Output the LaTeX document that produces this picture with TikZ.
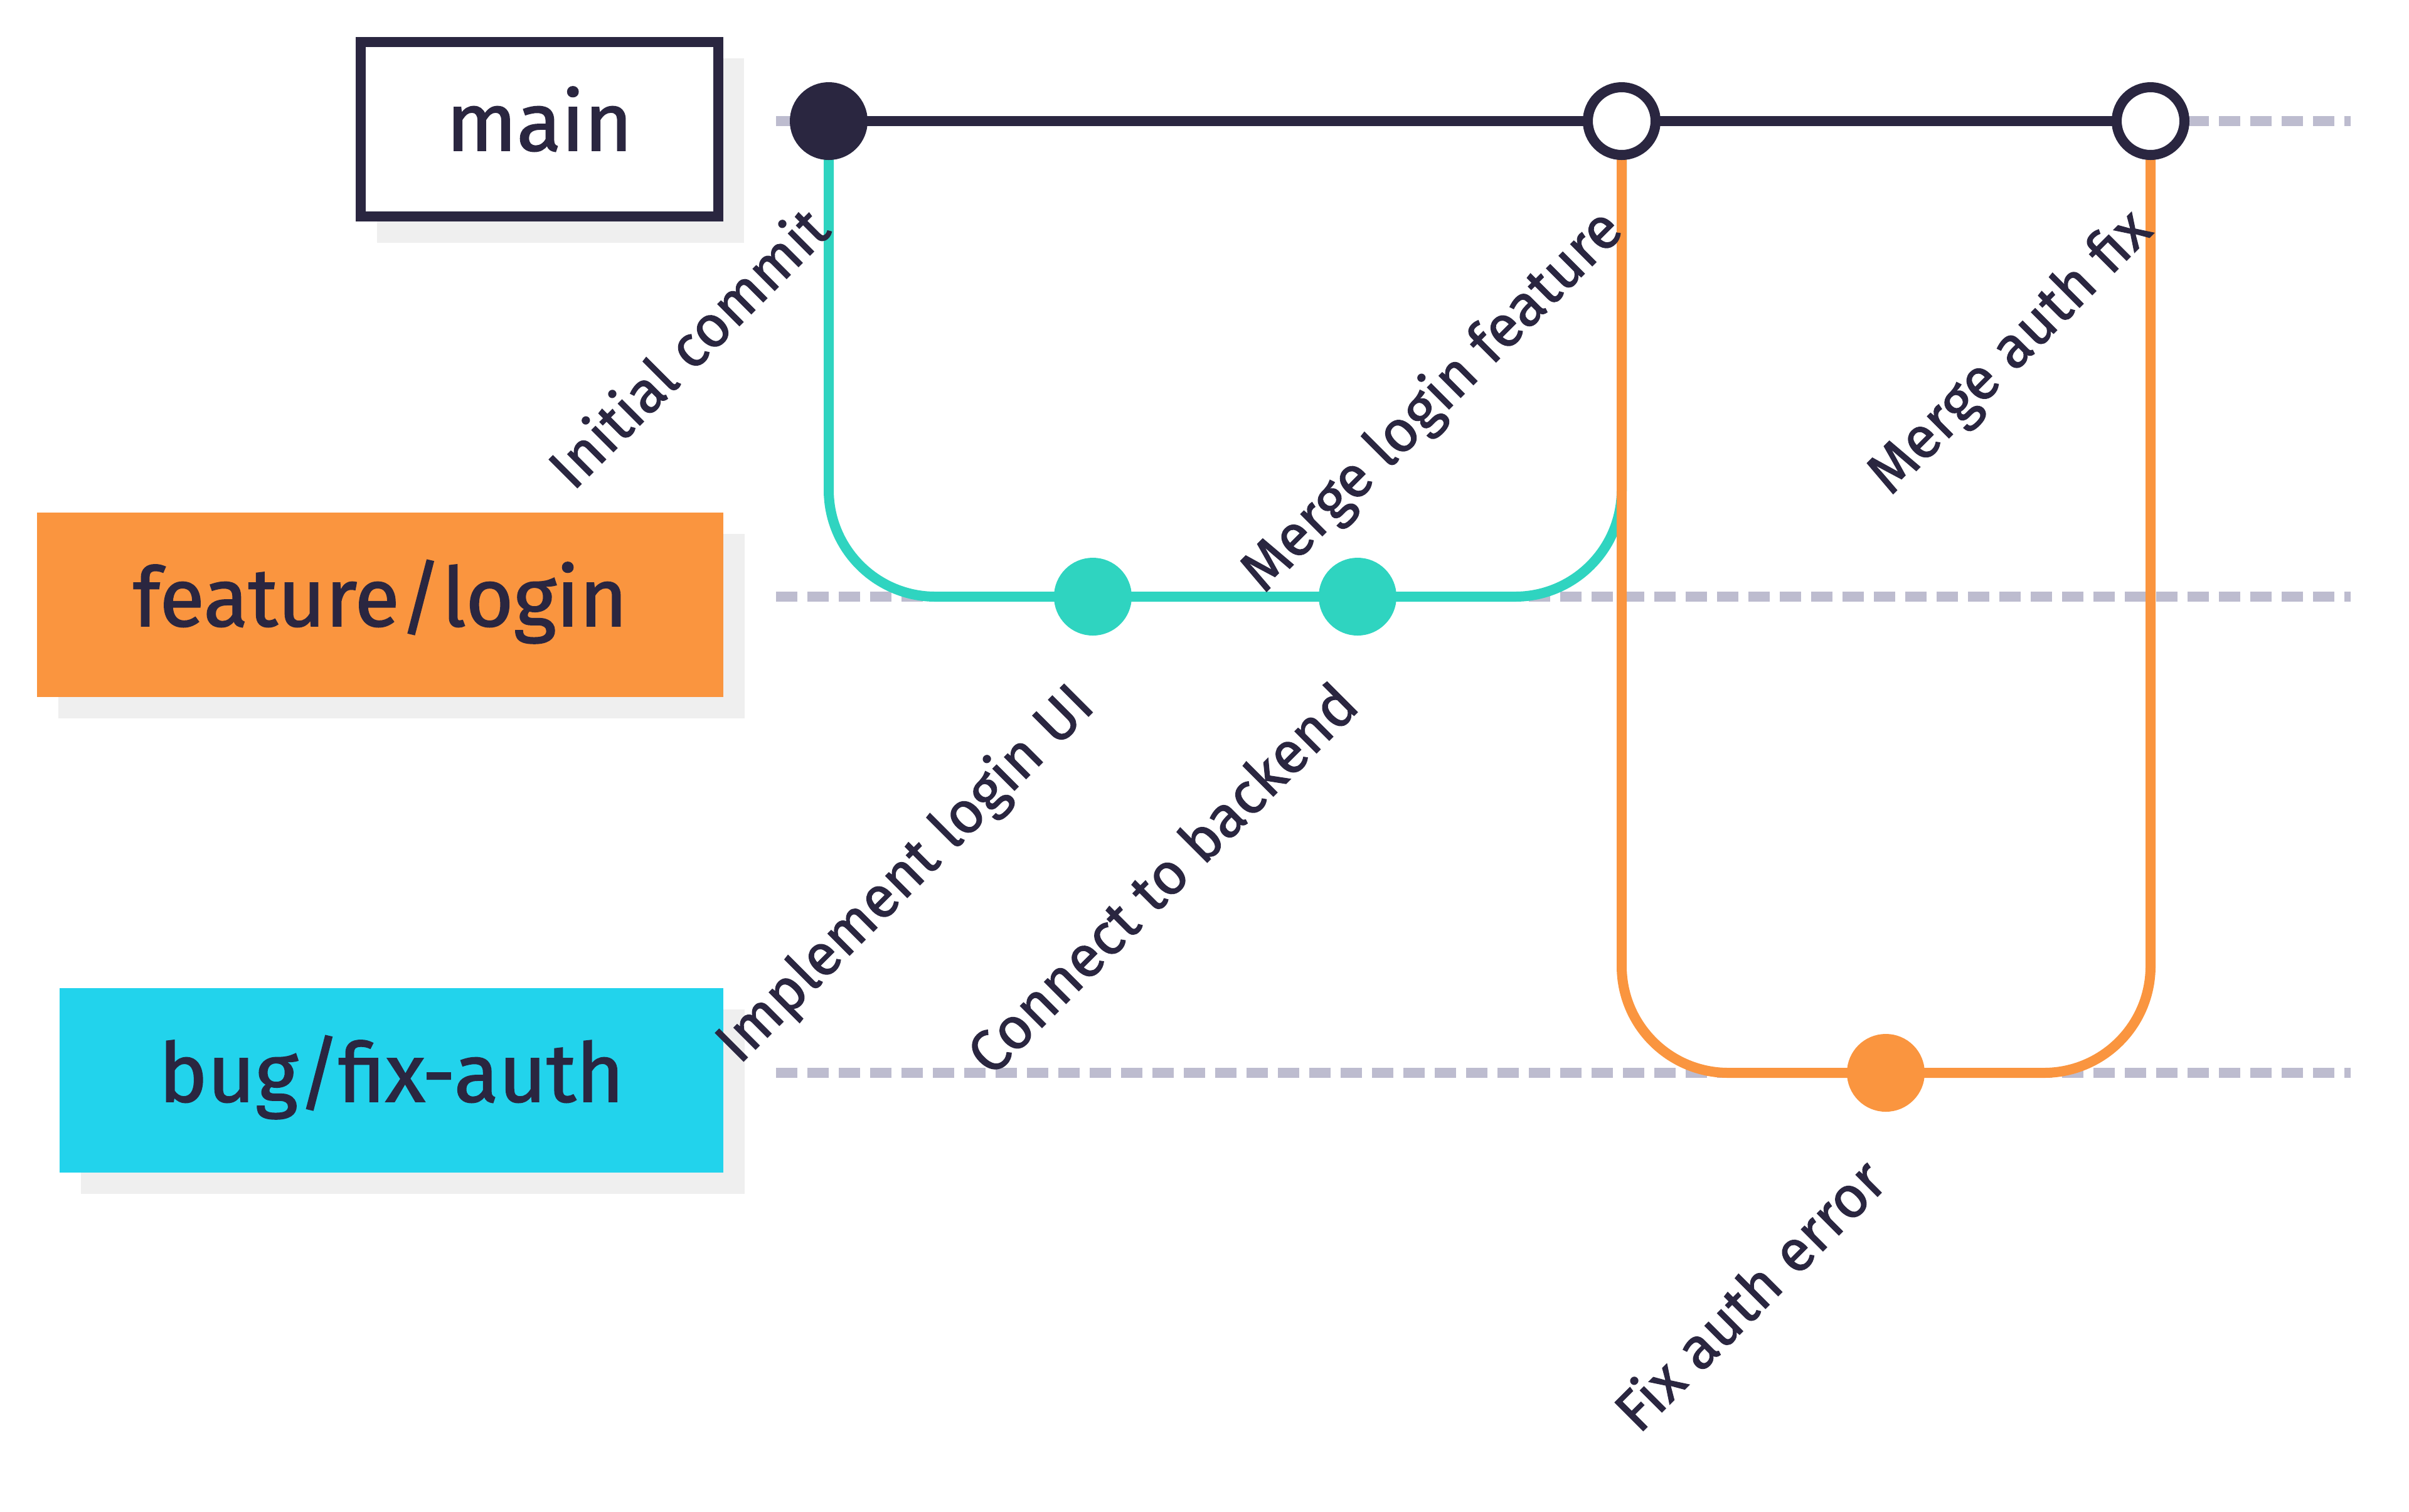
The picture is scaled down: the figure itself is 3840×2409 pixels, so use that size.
\documentclass[tikz,border=0pt]{standalone}
\usepackage{fontspec}
\setmainfont{Fira Sans}
\newfontfamily\medfont{Fira Sans}[FakeBold=1.4]
\usetikzlibrary{backgrounds}
\definecolor{ink}{HTML}{2A2640}
\definecolor{mint}{HTML}{2FD4C0}
\definecolor{tangerine}{HTML}{FA953F}
\definecolor{sky}{HTML}{22D3EC}
\definecolor{haze}{HTML}{EFEFEF}
\definecolor{lilac}{HTML}{BDBCCF}

\begin{document}
\begin{tikzpicture}
[x=0.05mm,y=-0.05mm,
 every node/.style={inner sep=0mm,outer sep=0mm,text=ink},
 commit/.style={circle,line width=0.8mm,minimum size=5.4mm},
 branch/.style={rectangle,minimum height=14.7mm,text height=3.4mm,text depth=0pt,
                font=\medfont\fontsize{18.6pt}{22pt}\selectfont},
 msg/.style={rotate=45,anchor=base east,font=\medfont\fontsize{13.2pt}{16pt}\selectfont},
 track/.style={lilac,line width=0.8mm,dash pattern=on 1.7mm off 0.8mm},
 shade/.style={fill=haze},
 wire/.style={line width=0.8mm}]
\useasboundingbox (0,0) rectangle (3840,2409);

% branch names
\node[branch,draw=ink,line width=0.8mm,fill=white,minimum width=28.45mm,minimum height=13.9mm]
     (main) at (860,206) {main};
\node[branch,fill=tangerine,minimum width=54.7mm] (feat) at (606,964) {feature/login};
\node[branch,fill=sky,minimum width=52.9mm]       (bug)  at (624,1722) {bug/fix-auth};

% commits
\node[commit,draw=ink,fill=ink]     (m1) at (1321,193)  {};
\node[commit,draw=ink,fill=white]   (m2) at (2585,193)  {};
\node[commit,draw=ink,fill=white]   (m3) at (3428,193)  {};
\node[commit,draw=mint,fill=mint]   (l1) at (1742,951)  {};
\node[commit,draw=mint,fill=mint]   (l2) at (2164,951)  {};
\node[commit,draw=tangerine,fill=tangerine] (b1) at (3006,1710) {};

\node[msg] (t1) at ([shift={(6,178)}]m1.center) {Initial commit};
\node[msg] (t2) at ([shift={(6,178)}]m2.center) {Merge login feature};
\node[msg] (t3) at ([shift={(6,178)}]m3.center) {Merge auth fix};
\node[msg] (t4) at ([shift={(6,178)}]l1.center) {Implement login UI};
\node[msg] (t5) at ([shift={(6,178)}]l2.center) {Connect to backend};
\node[msg] (t6) at ([shift={(6,178)}]b1.center) {Fix auth error};

\coordinate (mainL) at (1237,193);  \coordinate (mainR) at (3747,193);
\coordinate (featL) at (1237,951);  \coordinate (featR) at (3747,951);
\coordinate (bugL)  at (1237,1710); \coordinate (bugR)  at (3747,1710);

\begin{pgfonlayer}{background}
\fill[shade] ([shift={(26,42)}]main.south west) rectangle ([shift={(41,26)}]main.north east);
\fill[shade] ([shift={(34,34)}]feat.south west) rectangle ([shift={(34,34)}]feat.north east);
\fill[shade] ([shift={(34,34)}]bug.south west)  rectangle ([shift={(34,34)}]bug.north east);
\draw[track] (mainL) -- (mainR);
\draw[track] (featL) -- (featR);
\draw[track] (bugL)  -- (bugR);
\draw[wire,ink] (m1) -- (m2) -- (m3);
\draw[wire,mint,rounded corners=8.5mm] (m1.center) |- (l1.center) -- (l2.center) -| (m2.center);
\draw[wire,tangerine,rounded corners=8.5mm] (m2.center) |- (b1.center) -| (m3.center);
\end{pgfonlayer}
\end{tikzpicture}
\end{document}
